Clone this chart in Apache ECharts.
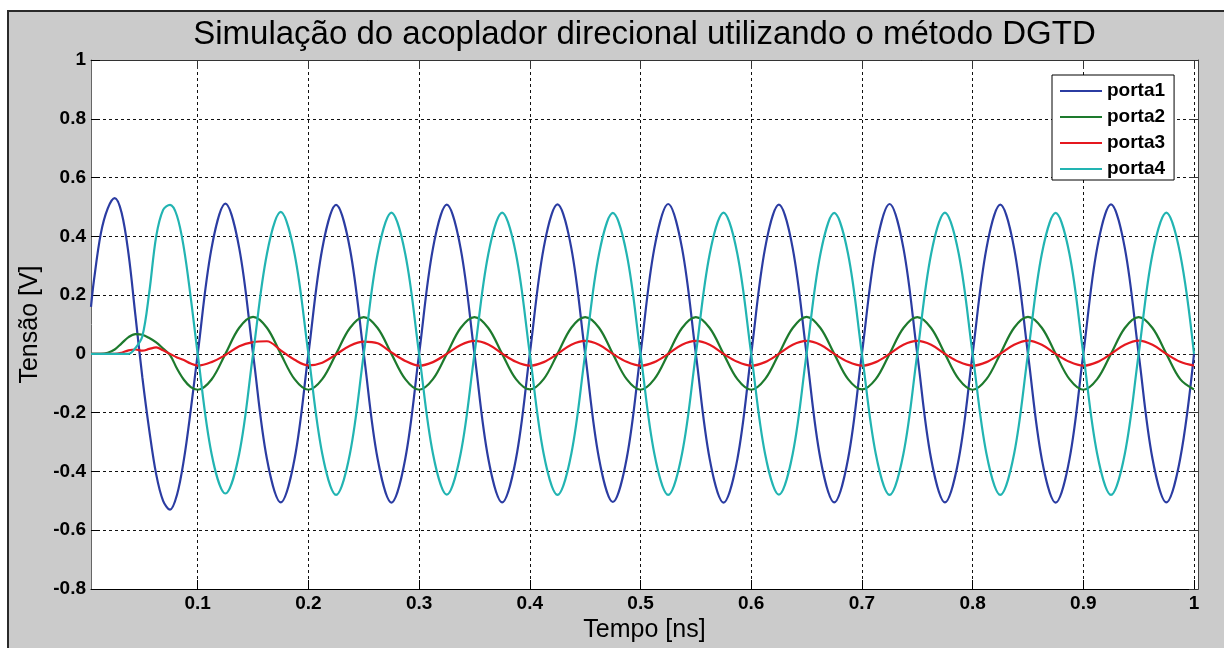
<!DOCTYPE html>
<html>
<head>
<meta charset="utf-8">
<script src="https://cdn.jsdelivr.net/npm/echarts@6/dist/echarts.min.js"></script>
<style>
  html, body { margin: 0; padding: 0; background: #ffffff; width: 1224px; height: 648px; overflow: hidden; }
  #moldura { position: absolute; left: 7px; top: 10px; width: 1230px; height: 650px; background: #cbcbcb;
             border-left: 2px solid #2a2a2a; border-top: 2px solid #2a2a2a; }
  #grafico { position: absolute; left: 0; top: 0; width: 1224px; height: 648px; }
</style>
</head>
<body>
<div id="moldura"></div>
<div id="grafico"></div>
<script>
// Tempo de amostragem (ns)
const tempo = [
  0.0036, 0.00625, 0.0125, 0.01875, 0.025, 0.03125, 0.0375, 0.04375, 0.05, 0.05625, 0.0625, 0.06875, 0.075, 0.08125, 0.0875, 0.09375, 0.1,
  0.1125, 0.125, 0.1375, 0.15, 0.1625, 0.175, 0.1875, 0.2,
  0.2125, 0.225, 0.2375, 0.25, 0.2625, 0.275, 0.2875, 0.3,
  0.3125, 0.325, 0.3375, 0.35, 0.3625, 0.375, 0.3875, 0.4,
  0.4125, 0.425, 0.4375, 0.45, 0.4625, 0.475, 0.4875, 0.5,
  0.5125, 0.525, 0.5375, 0.55, 0.5625, 0.575, 0.5875, 0.6,
  0.6125, 0.625, 0.6375, 0.65, 0.6625, 0.675, 0.6875, 0.7,
  0.7125, 0.725, 0.7375, 0.75, 0.7625, 0.775, 0.7875, 0.8,
  0.8125, 0.825, 0.8375, 0.85, 0.8625, 0.875, 0.8875, 0.9,
  0.9125, 0.925, 0.9375, 0.95, 0.9625, 0.975, 0.9875, 1.0
];

// Tensão em cada porta (V)
const porta1 = [
  0.16, 0.25, 0.41, 0.495, 0.53, 0.48, 0.34, 0.13, -0.08, -0.26, -0.41, -0.50, -0.53, -0.48, -0.36, -0.19, 0.0,
  0.36, 0.511, 0.36, 0.0, -0.357, -0.505, -0.357, 0.0,
  0.358, 0.507, 0.358, 0.0, -0.357, -0.506, -0.357, 0.0,
  0.359, 0.508, 0.359, 0.0, -0.357, -0.505, -0.357, 0.0,
  0.36, 0.509, 0.36, 0.0, -0.356, -0.504, -0.356, 0.0,
  0.36, 0.51, 0.36, 0.0, -0.358, -0.506, -0.358, 0.0,
  0.359, 0.508, 0.359, 0.0, -0.357, -0.505, -0.357, 0.0,
  0.36, 0.51, 0.36, 0.0, -0.357, -0.505, -0.357, 0.0,
  0.359, 0.508, 0.359, 0.0, -0.358, -0.506, -0.358, 0.0,
  0.36, 0.509, 0.36, 0.0, -0.357, -0.505, -0.357, 0.0
];
const porta2 = [
  0, 0, 0, 0.004, 0.015, 0.036, 0.057, 0.067, 0.065, 0.054, 0.039, 0.018, -0.004, -0.05, -0.088, -0.113, -0.122,
  -0.087, 0.0, 0.089, 0.126, 0.089, 0.0, -0.086, -0.122,
  -0.086, 0.0, 0.088, 0.125, 0.088, 0.0, -0.086, -0.122,
  -0.086, 0.0, 0.088, 0.125, 0.088, 0.0, -0.086, -0.121,
  -0.086, 0.0, 0.089, 0.125, 0.089, 0.0, -0.086, -0.122,
  -0.086, 0.0, 0.088, 0.125, 0.088, 0.0, -0.086, -0.122,
  -0.086, 0.0, 0.088, 0.126, 0.088, 0.0, -0.086, -0.121,
  -0.086, 0.0, 0.088, 0.125, 0.088, 0.0, -0.086, -0.122,
  -0.086, 0.0, 0.089, 0.126, 0.089, 0.0, -0.086, -0.122,
  -0.086, 0.0, 0.088, 0.125, 0.088, 0.0, -0.086, -0.121
];
const porta3 = [
  0, 0, 0, 0, 0, 0.004, 0.012, 0.015, 0.011, 0.017, 0.022, 0.012, 0.0, -0.012, -0.021, -0.033, -0.04,
  -0.028, -0.004, 0.026, 0.04, 0.043, 0.012, -0.02, -0.039,
  -0.03, -0.002, 0.028, 0.042, 0.036, 0.005, -0.024, -0.04,
  -0.028, 0.0, 0.03, 0.044, 0.032, 0.001, -0.027, -0.04,
  -0.028, 0.0, 0.031, 0.044, 0.031, 0.0, -0.027, -0.04,
  -0.028, 0.0, 0.031, 0.044, 0.031, 0.0, -0.027, -0.04,
  -0.028, 0.0, 0.031, 0.044, 0.031, 0.0, -0.027, -0.04,
  -0.028, 0.0, 0.031, 0.044, 0.031, 0.0, -0.027, -0.04,
  -0.028, 0.0, 0.031, 0.045, 0.031, 0.0, -0.027, -0.04,
  -0.028, 0.0, 0.031, 0.045, 0.031, 0.0, -0.027, -0.04
];
const porta4 = [
  0, 0, 0, 0, 0, 0, 0, 0.02, 0.06, 0.21, 0.40, 0.49, 0.507, 0.47, 0.36, 0.19, 0.0,
  -0.34, -0.475, -0.34, 0.0, 0.34, 0.483, 0.34, 0.0,
  -0.34, -0.48, -0.34, 0.0, 0.34, 0.481, 0.34, 0.0,
  -0.34, -0.479, -0.34, 0.0, 0.34, 0.481, 0.34, 0.0,
  -0.34, -0.48, -0.34, 0.0, 0.34, 0.48, 0.34, 0.0,
  -0.34, -0.48, -0.34, 0.0, 0.34, 0.481, 0.34, 0.0,
  -0.34, -0.479, -0.34, 0.0, 0.34, 0.48, 0.34, 0.0,
  -0.34, -0.48, -0.34, 0.0, 0.34, 0.481, 0.34, 0.0,
  -0.34, -0.48, -0.34, 0.0, 0.34, 0.48, 0.34, 0.0,
  -0.34, -0.48, -0.34, 0.0, 0.34, 0.481, 0.34, 0.0
];

const nomes = ['porta1', 'porta2', 'porta3', 'porta4'];
const cores = ['#2b3ca2', '#1d7a2d', '#e5181f', '#22b4b2'];
const valores = [porta1, porta2, porta3, porta4];
const marcasX = [0.1, 0.2, 0.3, 0.4, 0.5, 0.6, 0.7, 0.8, 0.9, 1];

const titulo = 'Simulação do acoplador direcional utilizando o método DGTD';
const FONTE = '"Liberation Sans", Arial, Helvetica, sans-serif';

const grade = { left: 91, top: 60, width: 1107, height: 530 };
const tracejado = { color: '#111', width: 1, type: [3, 3] };
const rotulo = { fontFamily: FONTE, fontSize: 19, fontWeight: 'bold', color: '#000', margin: 5 };

const chart = echarts.init(document.getElementById('grafico'), null, { renderer: 'canvas' });

chart.setOption({
  backgroundColor: 'transparent',
  animation: false,
  graphic: [{
    type: 'text',
    x: grade.left + grade.width / 2,
    y: 35,
    style: { text: titulo, fill: '#000', font: '33px ' + FONTE, align: 'center', verticalAlign: 'middle' }
  }],
  grid: Object.assign({ show: true, backgroundColor: '#ffffff', borderWidth: 0 }, grade),
  legend: {
    data: nomes,
    orient: 'vertical',
    left: 1052,
    top: 75,
    backgroundColor: '#ffffff',
    borderColor: '#000',
    borderWidth: 1,
    borderRadius: 0,
    padding: [6, 9, 1, 8],
    itemGap: 6,
    itemWidth: 42,
    itemHeight: 2,
    icon: 'rect',
    selectedMode: false,
    textStyle: { fontFamily: FONTE, fontSize: 19, fontWeight: 'bold', color: '#000', lineHeight: 20 }
  },
  xAxis: [{
    type: 'value',
    position: 'bottom',
    min: 0.0036,
    max: 1.0036,
    name: 'Tempo [ns]',
    nameLocation: 'middle',
    nameGap: 29,
    nameTextStyle: { fontFamily: FONTE, fontSize: 25, color: '#000' },
    axisLine: { show: true, onZero: false, lineStyle: { color: '#000', width: 1 } },
    axisTick: { show: true, inside: true, length: 9, customValues: marcasX, lineStyle: { color: '#000' } },
    axisLabel: Object.assign({ customValues: marcasX }, rotulo),
    splitLine: { show: true, lineStyle: tracejado }
  }, {
    type: 'value',
    position: 'top',
    min: 0.0036,
    max: 1.0036,
    axisLine: { show: true, onZero: false, lineStyle: { color: '#333', width: 1 } },
    axisTick: { show: true, inside: true, length: 9, customValues: marcasX, lineStyle: { color: '#333' } },
    axisLabel: { show: false },
    splitLine: { show: false }
  }],
  yAxis: [{
    type: 'value',
    position: 'left',
    min: -0.8,
    max: 1,
    interval: 0.2,
    name: 'Tensão [V]',
    nameLocation: 'middle',
    nameGap: 46,
    nameTextStyle: { fontFamily: FONTE, fontSize: 25, color: '#000' },
    axisLine: { show: true, onZero: false, lineStyle: { color: '#666', width: 1 } },
    axisTick: { show: true, inside: true, length: 9, lineStyle: { color: '#000' } },
    axisLabel: rotulo,
    splitLine: { show: true, lineStyle: tracejado }
  }, {
    type: 'value',
    position: 'right',
    min: -0.8,
    max: 1,
    interval: 0.2,
    axisLine: { show: true, onZero: false, lineStyle: { color: '#444', width: 1 } },
    axisTick: { show: true, inside: true, length: 9, lineStyle: { color: '#333' } },
    axisLabel: { show: false },
    splitLine: { show: false }
  }],
  series: nomes.map((nome, k) => ({
    name: nome,
    type: 'line',
    xAxisIndex: 0,
    yAxisIndex: 0,
    data: tempo.map((t, i) => [t, valores[k][i]]),
    smooth: 0.35,
    symbol: 'none',
    showSymbol: false,
    clip: true,
    color: cores[k],
    lineStyle: { color: cores[k], width: 2.2 }
  }))
});
</script>
</body>
</html>
